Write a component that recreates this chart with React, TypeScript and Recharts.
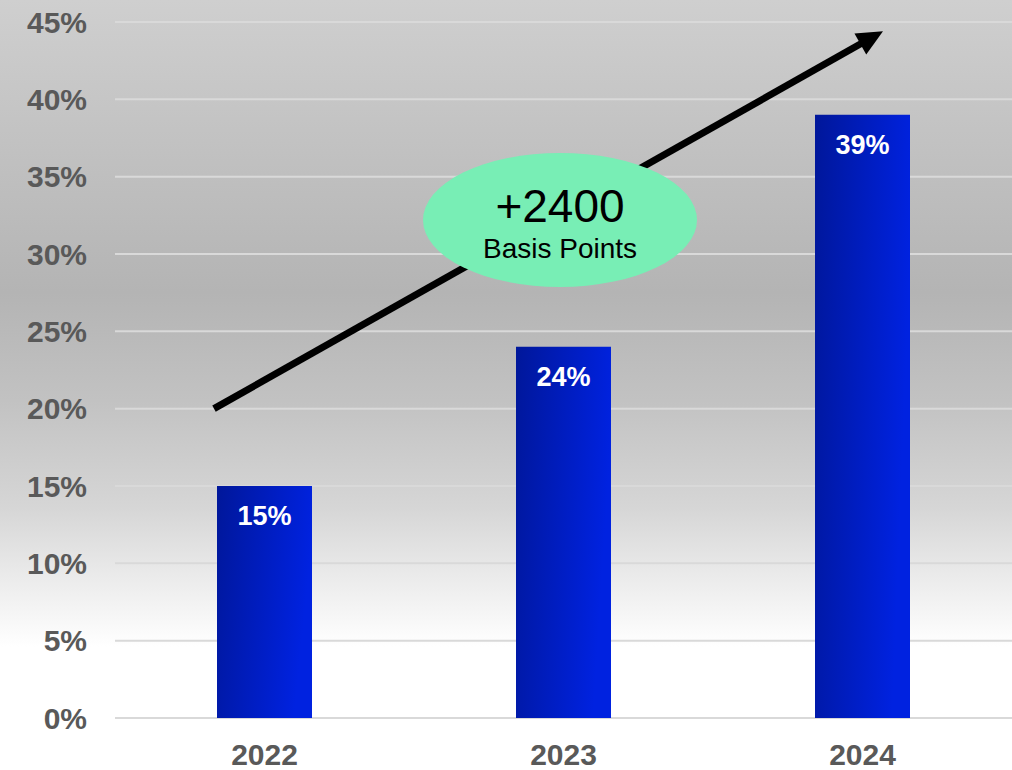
import { Bar, BarChart, CartesianGrid, LabelList, XAxis, YAxis } from "recharts";

const years = ["2022", "2023", "2024"];
const shares = [15, 24, 39];
const yTicks = [0, 5, 10, 15, 20, 25, 30, 35, 40, 45];

const data = years.map((year, i) => ({ year, share: shares[i] }));

// annotation: trend arrow + callout (y in % of the value axis, x in px)
const arrowFrom = { x: 214, value: 20 };
const arrowTo = { x: 883, value: 44.4 };
const calloutCenter = { x: 560, value: 32.2 };
const calloutTitle = "+2400";
const calloutSub = "Basis Points";

const W = 1012;
const H = 770;
const TOP = 22;
const X_AXIS_H = 52;
const Y_AXIS_W = 115;
const Y_MAX = 45;

const FONT = "'Liberation Sans', Arial, sans-serif";

const yPx = (v: number) => TOP + ((Y_MAX - v) / Y_MAX) * (H - TOP - X_AXIS_H);

function TrendOverlay() {
  const x1 = arrowFrom.x;
  const y1 = yPx(arrowFrom.value);
  const x2 = arrowTo.x;
  const y2 = yPx(arrowTo.value);
  const len = Math.hypot(x2 - x1, y2 - y1);
  const ux = (x2 - x1) / len;
  const uy = (y2 - y1) / len;
  const headLen = 26;
  const headHalf = 12;
  const bx = x2 - ux * headLen;
  const by = y2 - uy * headLen;
  const head = [
    [x2, y2],
    [bx - uy * headHalf, by + ux * headHalf],
    [bx + uy * headHalf, by - ux * headHalf],
  ]
    .map((p) => p.join(","))
    .join(" ");
  const cy = yPx(calloutCenter.value);

  return (
    <svg width={W} height={H} style={{ position: "absolute", left: 0, top: 0, pointerEvents: "none" }}>
      <line x1={x1} y1={y1} x2={bx + ux * 2} y2={by + uy * 2} stroke="#000" strokeWidth={7} />
      <polygon points={head} fill="#000" />
      <ellipse cx={calloutCenter.x} cy={cy} rx={137} ry={67} fill="#78EEB5" />
      <text x={calloutCenter.x} y={cy + 2} textAnchor="middle" fontSize={46} fontFamily={FONT} fill="#000">
        {calloutTitle}
      </text>
      <text x={calloutCenter.x} y={cy + 38} textAnchor="middle" fontSize={28} fontFamily={FONT} fill="#000">
        {calloutSub}
      </text>
    </svg>
  );
}

export default function App() {
  return (
    <div
      style={{
        position: "absolute",
        left: 0,
        top: 0,
        width: W,
        height: H,
        background:
          "linear-gradient(to bottom, #cfcfcf 0%, #b4b4b4 38%, #c2c2c2 52%, #d6d6d6 66%, #ebebeb 75%, #ffffff 84%, #ffffff 100%)",
      }}
    >
      <BarChart width={W} height={H} data={data} margin={{ top: TOP, right: 0, bottom: 0, left: 0 }}>
        <defs>
          <linearGradient id="barFill" x1="0" y1="0" x2="1" y2="0.25">
            <stop offset="0%" stopColor="#00179a" />
            <stop offset="100%" stopColor="#0022e0" />
          </linearGradient>
        </defs>
        <CartesianGrid vertical={false} stroke="#d9d9d9" strokeWidth={2} />
        <XAxis
          dataKey="year"
          height={X_AXIS_H}
          axisLine={false}
          tickLine={false}
          tickSize={0}
          tickMargin={26}
          tick={{ fill: "#595959", fontSize: 30, fontWeight: "bold", fontFamily: FONT }}
        />
        <YAxis
          width={Y_AXIS_W}
          domain={[0, Y_MAX]}
          ticks={yTicks}
          interval={0}
          axisLine={false}
          tickLine={false}
          tickSize={0}
          tickMargin={28}
          tickFormatter={(v: number) => `${v}%`}
          tick={{ fill: "#595959", fontSize: 30, fontWeight: "bold", fontFamily: FONT }}
        />
        <Bar dataKey="share" fill="url(#barFill)" barSize={95} isAnimationActive={false}>
          <LabelList
            dataKey="share"
            position="insideTop"
            offset={20}
            formatter={(v: number) => `${v}%`}
            fill="#ffffff"
            fontSize={27}
            fontWeight="bold"
            fontFamily={FONT}
          />
        </Bar>
      </BarChart>
      <TrendOverlay />
    </div>
  );
}
